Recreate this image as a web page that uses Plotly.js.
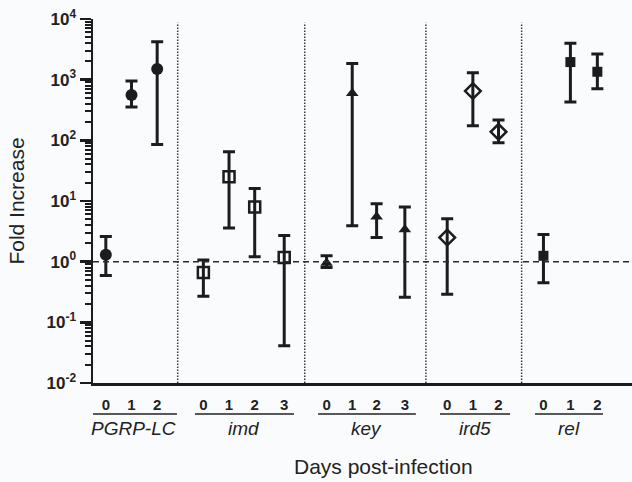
<!DOCTYPE html>
<html>
<head>
<meta charset="utf-8">
<script src="https://cdn.plot.ly/plotly-3.0.1.min.js"></script>
<style>html,body{margin:0;padding:0;background:#fafbfd;}#chart{width:632px;height:482px;}</style>
</head>
<body>
<div id="chart"></div>
<script>
// ---- data ----
const genes = ["PGRP-LC", "imd", "key", "ird5", "rel"];

const pgrpX = [0.5, 1.5, 2.5];
const pgrpDays = ["0", "1", "2"];
const pgrpMean = [1.3, 560, 1500];
const pgrpUpper = [2.6, 950, 4200];
const pgrpLower = [0.59, 355, 85];

const imdX = [4.3, 5.3, 6.3, 7.45];
const imdDays = ["0", "1", "2", "3"];
const imdMean = [0.66, 25, 8, 1.17];
const imdUpper = [1.07, 65, 16, 2.7];
const imdLower = [0.27, 3.6, 1.2, 0.041];

const keyX = [9.1, 10.1, 11.05, 12.15];
const keyDays = ["0", "1", "2", "3"];
const keyMean = [0.95, 600, 5.5, 3.4];
const keyUpper = [1.25, 1850, 9, 8];
const keyLower = [0.8, 3.9, 2.5, 0.26];

const ird5X = [13.8, 14.8, 15.8];
const ird5Days = ["0", "1", "2"];
const ird5Mean = [2.5, 650, 138];
const ird5Upper = [5.1, 1300, 217];
const ird5Lower = [0.29, 174, 91];

const relX = [17.55, 18.6, 19.65];
const relDays = ["0", "1", "2"];
const relMean = [1.25, 1950, 1350];
const relUpper = [2.8, 4000, 2650];
const relLower = [0.45, 430, 710];

const dividerX = [3.3, 8.25, 12.97, 16.7];
const groupSpan = [[-0.12, 3.27], [3.97, 7.83], [8.77, 12.58], [13.52, 16.25], [17.22, 19.87]];

const yTickVals = [0.01, 0.1, 1, 10, 100, 1000, 10000];
const yTickText = ["10<sup>-2</sup>", "10<sup>-1</sup>", "10<sup>0</sup>", "10<sup>1</sup>", "10<sup>2</sup>", "10<sup>3</sup>", "10<sup>4</sup>"];

// ---- build ----
const ink = "#1c1c1c";
function series(x, mean, up, lo, symbol, size, lw) {
  return {
    type: "scatter", mode: "markers", x: x, y: mean,
    marker: {symbol: symbol, size: size, color: ink, line: {color: ink, width: lw}},
    error_y: {type: "data", symmetric: false,
      array: up.map((u, i) => u - mean[i]),
      arrayminus: lo.map((l, i) => mean[i] - l),
      color: ink, thickness: 3, width: 6},
    showlegend: false, hoverinfo: "x+y"
  };
}
const data = [
  series(pgrpX, pgrpMean, pgrpUpper, pgrpLower, "circle", 12, 0),
  series(imdX, imdMean, imdUpper, imdLower, "square-open", 11, 2.5),
  series(keyX, keyMean, keyUpper, keyLower, "triangle-up", 11, 0),
  series(ird5X, ird5Mean, ird5Upper, ird5Lower, "diamond-open", 12, 2.5),
  series(relX, relMean, relUpper, relLower, "square", 10, 0)
];

const allX = [].concat(pgrpX, imdX, keyX, ird5X, relX);
const allDays = [].concat(pgrpDays, imdDays, keyDays, ird5Days, relDays);

const minorVals = [];
for (let e = -2; e < 4; e++) for (let m = 2; m <= 9; m++) minorVals.push(m * Math.pow(10, e));

const shapes = [];
shapes.push({type: "line", xref: "paper", yref: "y", x0: 0, x1: 1, y0: 1, y1: 1,
  line: {color: "#2a2a2a", width: 1.5, dash: "6px,4px"}});
dividerX.forEach(d => shapes.push({type: "line", xref: "x", yref: "paper", x0: d, x1: d, y0: 0, y1: 0.99,
  line: {color: "#3a3a3a", width: 1.5, dash: "1.5px,1.5px"}}));
groupSpan.forEach(s => shapes.push({type: "line", xref: "x", yref: "paper", x0: s[0], x1: s[1], y0: -0.085, y1: -0.085,
  line: {color: "#222", width: 1.5}}));

const annotations = genes.map((g, i) => ({
  x: (groupSpan[i][0] + groupSpan[i][1]) / 2, y: -0.124, xref: "x", yref: "paper",
  text: "<i>" + g + "</i>", showarrow: false, xanchor: "center", yanchor: "middle",
  font: {family: "Arial, Liberation Sans, sans-serif", size: 19, color: "#222"}
}));
annotations.push({x: 11.3, y: -0.23, xref: "x", yref: "paper", text: "Days post-infection",
  showarrow: false, xanchor: "center", yanchor: "middle",
  font: {family: "Arial, Liberation Sans, sans-serif", size: 21, color: "#222"}});

const layout = {
  width: 632, height: 482,
  margin: {l: 93, r: 0, t: 19, b: 99},
  paper_bgcolor: "#fafbfd", plot_bgcolor: "#fafbfd",
  font: {family: "Arial, Liberation Sans, sans-serif", color: "#222"},
  xaxis: {
    range: [0, 21], showgrid: false, zeroline: false,
    showline: true, linecolor: ink, linewidth: 2.5,
    tickmode: "array", tickvals: allX, ticktext: allDays,
    ticks: "outside", ticklen: 6, tickcolor: "rgba(0,0,0,0)",
    tickfont: {size: 15, color: "#222", weight: "bold"}
  },
  yaxis: {
    type: "log", range: [-2, 4], showgrid: false, zeroline: false,
    showline: true, linecolor: ink, linewidth: 2.5,
    tickmode: "array", tickvals: yTickVals, ticktext: yTickText,
    ticks: "outside", ticklen: 11, tickwidth: 2.5, tickcolor: ink,
    tickfont: {size: 17, color: "#222", weight: "bold"},
    minor: {tickmode: "array", tickvals: minorVals, ticks: "outside", ticklen: 6, tickwidth: 2, tickcolor: ink, showgrid: false},
    title: {text: "Fold Increase", font: {size: 21, color: "#222"}, standoff: 16}
  },
  shapes: shapes,
  annotations: annotations
};

Plotly.newPlot("chart", data, layout, {displayModeBar: false, staticPlot: true});
</script>
</body>
</html>
